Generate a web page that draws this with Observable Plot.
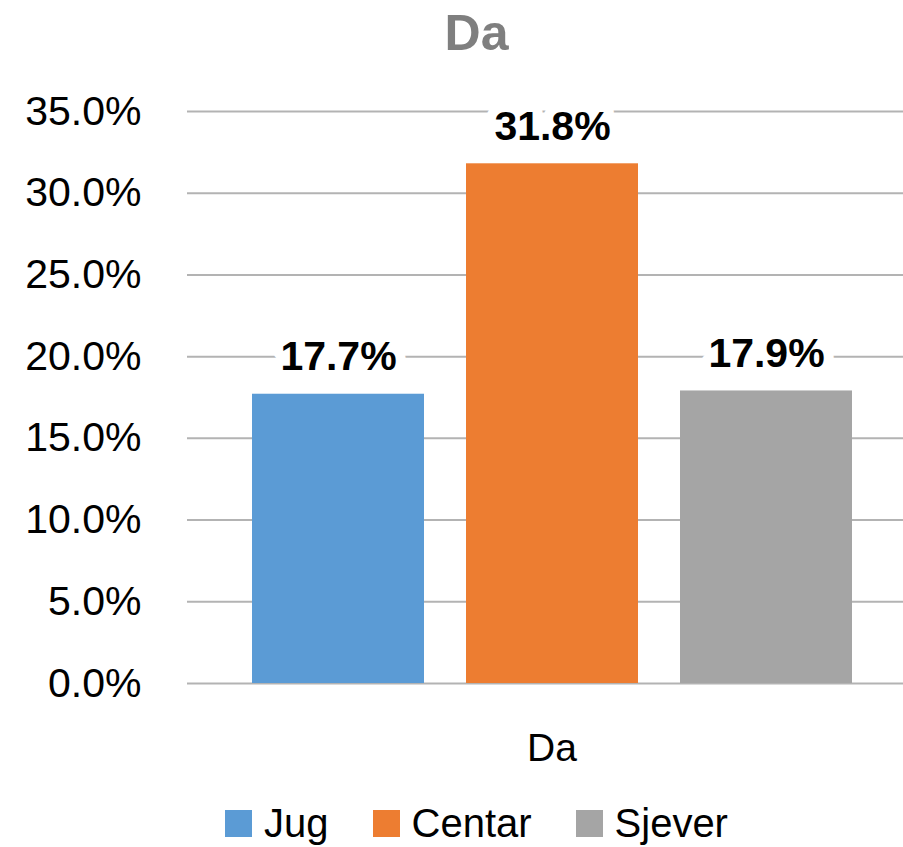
<!DOCTYPE html>
<html>
<head>
<meta charset="utf-8">
<script src="https://cdn.jsdelivr.net/npm/d3@7"></script>
<script src="https://cdn.jsdelivr.net/npm/@observablehq/plot@0.6"></script>
<style>
  html, body { margin: 0; padding: 0; background: #fff; }
  body { width: 903px; height: 847px; overflow: hidden; font-family: "Liberation Sans", Arial, sans-serif; }
  #title { height: 70px; box-sizing: border-box; padding-top: 3px; padding-left: 50px; text-align: center;
           font-size: 50px; line-height: 60px; font-weight: bold; color: #7f7f7f; }
  #chart svg { display: block; }
  #legend { display: flex; align-items: center; padding-left: 225px; padding-top: 10px; gap: 44px; }
  .item { display: flex; align-items: center; }
  .sw { width: 27px; height: 27px; display: inline-block; }
  .lab { font-size: 40px; line-height: 27px; margin-left: 12px; color: #000; }
</style>
</head>
<body>
<div id="title"></div>
<div id="chart"></div>
<div id="legend"></div>
<script>
const chartTitle = "Da";
const categories = ["Da"];
const series = ["Jug", "Centar", "Sjever"];
const values = [0.177, 0.318, 0.179];
const yTicks = [0, 0.05, 0.10, 0.15, 0.20, 0.25, 0.30, 0.35];
const colors = ["#5b9bd5", "#ed7d31", "#a5a5a5"];

const data = series.map((s, i) => ({category: categories[0], series: s, value: values[i]}));
const pct = d3.format(".1%");

document.getElementById("title").textContent = chartTitle;

const chart = Plot.plot({
  width: 903,
  height: 730,
  marginTop: 41,
  marginBottom: 117,
  marginLeft: 187,
  marginRight: 0,
  style: {fontFamily: "'Liberation Sans', Arial, sans-serif", background: "white", color: "black"},
  x: {domain: series, range: [251, 852], paddingInner: 0.198, paddingOuter: 0, axis: null},
  y: {domain: [0, 0.35]},
  color: {domain: series, range: colors},
  marks: [
    Plot.gridY(yTicks, {stroke: "#b3b3b3", strokeWidth: 2, strokeOpacity: 1}),
    Plot.axisY(yTicks, {tickSize: 0, tickPadding: 46, tickFormat: pct, fontSize: 41, label: null}),
    Plot.barY(data, {x: "series", y: "value", fill: "series"}),
    Plot.text(data, {x: "series", y: "value", text: d => pct(d.value), lineAnchor: "bottom", dy: -24,
      fontWeight: "bold", fontSize: 41, fill: "black", stroke: "white", strokeWidth: 20}),
    Plot.text(categories, {text: d => d, frameAnchor: "bottom", lineAnchor: "bottom", dx: 6.5, dy: 77, fontSize: 39, fill: "black"})
  ]
});
document.getElementById("chart").appendChild(chart);

const legend = document.getElementById("legend");
series.forEach((s, i) => {
  const item = document.createElement("div");
  item.className = "item";
  const sw = document.createElement("span");
  sw.className = "sw";
  sw.style.background = colors[i];
  const lab = document.createElement("span");
  lab.className = "lab";
  lab.textContent = s;
  item.appendChild(sw);
  item.appendChild(lab);
  legend.appendChild(item);
});
</script>
</body>
</html>
